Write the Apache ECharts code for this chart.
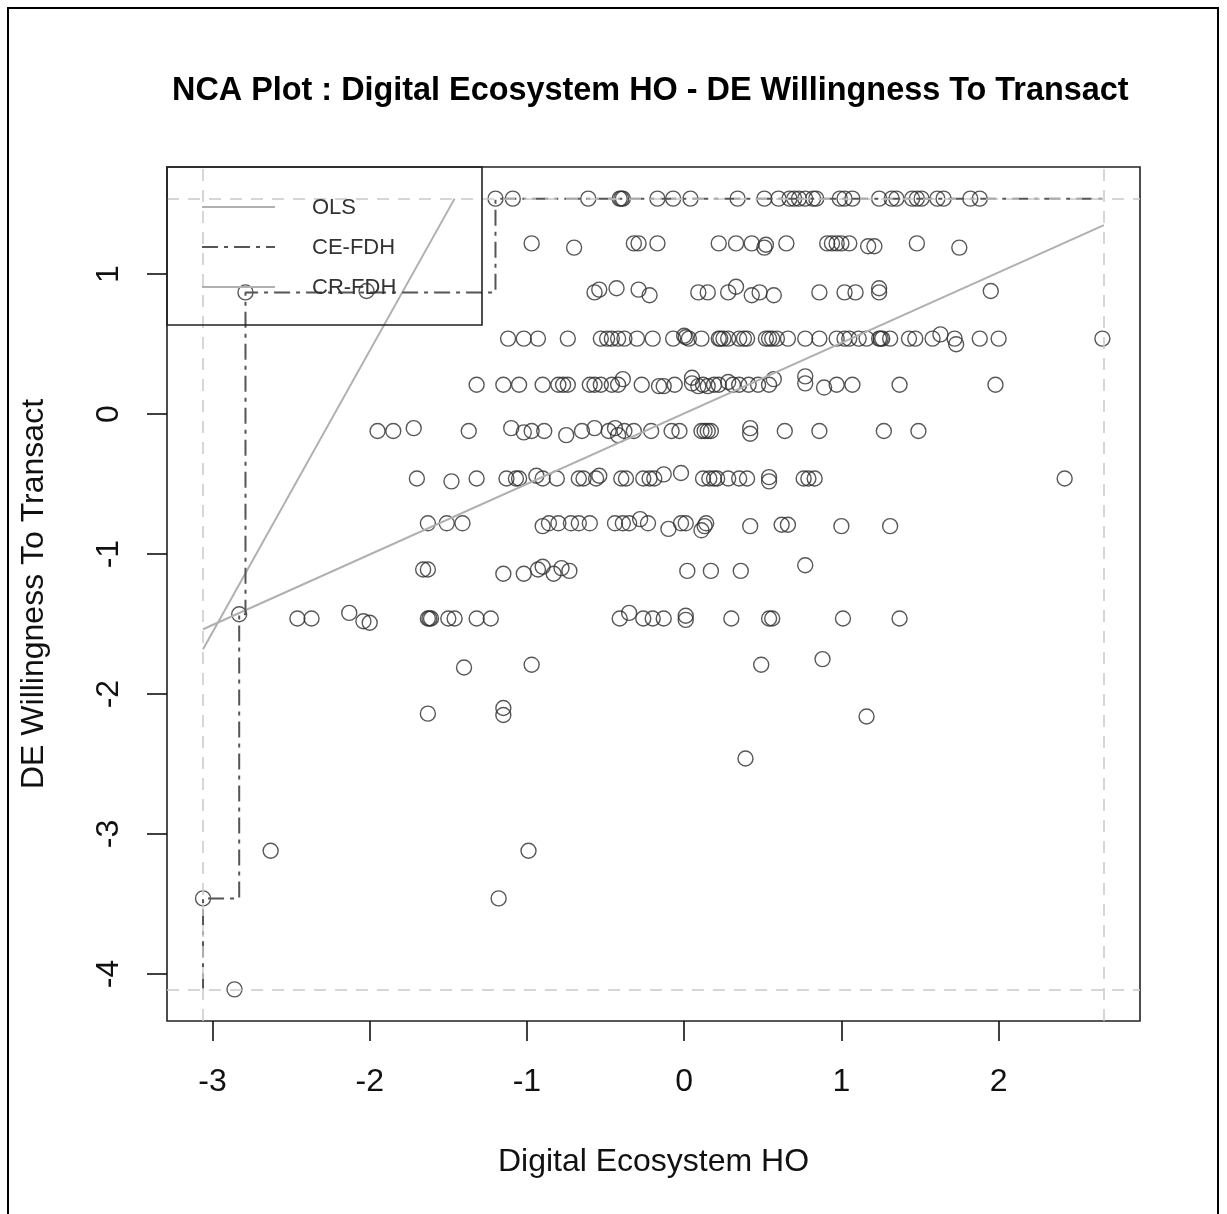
<!DOCTYPE html>
<html><head><meta charset="utf-8">
<script src="https://cdn.jsdelivr.net/npm/echarts@6/dist/echarts.min.js"></script>
<style>html,body{margin:0;padding:0;background:#fff}#c{width:1227px;height:1214px}</style>
</head><body><div id="c"></div>
<script>
const FONT = '"Liberation Sans", Arial, Helvetica, sans-serif';
const titleText = 'NCA Plot : Digital Ecosystem HO - DE Willingness To Transact';
const xName = 'Digital Ecosystem HO';
const yName = 'DE Willingness To Transact';
const xTicks = [-3, -2, -1, 0, 1, 2];
const yTicks = [-4, -3, -2, -1, 0, 1];
const xScope = [-3.06, 2.67];
const yScope = [-4.11, 1.54];
const legendNames = ['OLS', 'CE-FDH', 'CR-FDH'];

const rowA = [[-1.20,1.54],[-1.09,1.54],[-0.61,1.54],[-0.41,1.54],[-0.40,1.54],[-0.39,1.54],[-0.17,1.54],[-0.07,1.54],[0.04,1.54],[0.34,1.54],[0.51,1.54],[0.60,1.54],[0.67,1.54],[0.70,1.54],[0.73,1.54],[0.77,1.54],[0.82,1.54],[0.84,1.54],[0.99,1.54],[1.02,1.54],[1.07,1.54],[1.24,1.54],[1.32,1.54],[1.35,1.54],[1.45,1.54],[1.48,1.54],[1.51,1.54],[1.61,1.54],[1.65,1.54],[1.82,1.54],[1.88,1.54]];
const rowB = [[-0.97,1.22],[-0.70,1.19],[-0.32,1.22],[-0.29,1.22],[-0.17,1.22],[0.22,1.22],[0.33,1.22],[0.43,1.22],[0.51,1.19],[0.52,1.21],[0.65,1.22],[0.91,1.22],[0.94,1.22],[0.97,1.22],[1.00,1.22],[1.05,1.22],[1.17,1.20],[1.21,1.20],[1.48,1.22],[1.75,1.19]];
const rowC = [[-2.79,0.87],[-2.02,0.88],[-0.57,0.87],[-0.54,0.89],[-0.43,0.90],[-0.29,0.89],[-0.22,0.85],[0.09,0.87],[0.15,0.87],[0.28,0.87],[0.33,0.91],[0.43,0.85],[0.48,0.87],[0.57,0.85],[0.86,0.87],[1.02,0.87],[1.09,0.87],[1.24,0.90],[1.24,0.87],[1.95,0.88]];
const rowD = [[-1.12,0.54],[-1.02,0.54],[-0.93,0.54],[-0.74,0.54],[-0.53,0.54],[-0.49,0.54],[-0.46,0.54],[-0.42,0.54],[-0.38,0.54],[-0.30,0.54],[-0.20,0.54],[-0.07,0.54],[0.00,0.56],[0.01,0.55],[0.03,0.54],[0.11,0.54],[0.22,0.54],[0.23,0.54],[0.25,0.54],[0.28,0.54],[0.35,0.54],[0.38,0.54],[0.40,0.54],[0.52,0.54],[0.54,0.54],[0.56,0.54],[0.59,0.54],[0.66,0.54],[0.77,0.54],[0.86,0.54],[0.97,0.54],[1.02,0.54],[1.05,0.54],[1.11,0.54],[1.16,0.54],[1.24,0.54],[1.25,0.54],[1.26,0.54],[1.31,0.54],[1.43,0.54],[1.47,0.54],[1.58,0.54],[1.63,0.57],[1.72,0.54],[1.73,0.50],[1.88,0.54],[2.00,0.54],[2.66,0.54]];
const rowE = [[-1.32,0.21],[-1.15,0.21],[-1.05,0.21],[-0.90,0.21],[-0.80,0.21],[-0.77,0.21],[-0.74,0.21],[-0.60,0.21],[-0.57,0.21],[-0.53,0.21],[-0.46,0.21],[-0.42,0.21],[-0.39,0.25],[-0.27,0.21],[-0.16,0.20],[-0.13,0.20],[-0.06,0.21],[0.05,0.26],[0.05,0.22],[0.09,0.20],[0.12,0.21],[0.15,0.20],[0.19,0.21],[0.22,0.21],[0.28,0.23],[0.31,0.21],[0.35,0.21],[0.41,0.21],[0.47,0.21],[0.54,0.21],[0.57,0.25],[0.77,0.27],[0.77,0.22],[0.89,0.19],[0.97,0.21],[1.07,0.21],[1.37,0.21],[1.98,0.21]];
const rowF = [[-1.95,-0.12],[-1.85,-0.12],[-1.72,-0.10],[-1.37,-0.12],[-1.10,-0.10],[-1.02,-0.13],[-0.97,-0.12],[-0.89,-0.12],[-0.75,-0.15],[-0.65,-0.12],[-0.57,-0.10],[-0.48,-0.12],[-0.44,-0.10],[-0.42,-0.15],[-0.38,-0.12],[-0.32,-0.12],[-0.21,-0.12],[-0.08,-0.12],[-0.03,-0.12],[0.11,-0.12],[0.13,-0.12],[0.15,-0.12],[0.17,-0.12],[0.42,-0.10],[0.42,-0.14],[0.64,-0.12],[0.86,-0.12],[1.27,-0.12],[1.49,-0.12]];
const rowG = [[-1.70,-0.46],[-1.48,-0.48],[-1.32,-0.46],[-1.13,-0.46],[-1.07,-0.46],[-1.05,-0.46],[-0.94,-0.44],[-0.90,-0.46],[-0.81,-0.46],[-0.67,-0.46],[-0.64,-0.46],[-0.56,-0.46],[-0.54,-0.44],[-0.40,-0.46],[-0.37,-0.46],[-0.26,-0.46],[-0.22,-0.46],[-0.19,-0.46],[-0.13,-0.43],[-0.02,-0.42],[0.12,-0.46],[0.16,-0.46],[0.19,-0.46],[0.21,-0.46],[0.28,-0.46],[0.35,-0.46],[0.40,-0.46],[0.54,-0.45],[0.54,-0.48],[0.76,-0.46],[0.79,-0.46],[0.83,-0.46],[2.42,-0.46]];
const rowH = [[-1.63,-0.78],[-1.51,-0.78],[-1.41,-0.78],[-0.90,-0.80],[-0.86,-0.78],[-0.80,-0.78],[-0.72,-0.78],[-0.67,-0.78],[-0.60,-0.78],[-0.44,-0.78],[-0.39,-0.78],[-0.35,-0.78],[-0.28,-0.75],[-0.23,-0.78],[-0.10,-0.82],[-0.02,-0.78],[0.01,-0.78],[0.11,-0.83],[0.13,-0.80],[0.14,-0.78],[0.42,-0.80],[0.62,-0.79],[0.66,-0.79],[1.00,-0.80],[1.31,-0.80]];
const rowI = [[-1.66,-1.11],[-1.63,-1.11],[-1.15,-1.14],[-1.02,-1.14],[-0.93,-1.11],[-0.90,-1.09],[-0.83,-1.14],[-0.78,-1.10],[-0.73,-1.12],[0.02,-1.12],[0.17,-1.12],[0.36,-1.12],[0.77,-1.08]];
const rowJ = [[-2.83,-1.43],[-2.46,-1.46],[-2.37,-1.46],[-2.13,-1.42],[-2.04,-1.48],[-2.00,-1.49],[-1.63,-1.46],[-1.62,-1.46],[-1.61,-1.46],[-1.50,-1.46],[-1.46,-1.46],[-1.32,-1.46],[-1.23,-1.46],[-0.41,-1.46],[-0.35,-1.42],[-0.26,-1.46],[-0.20,-1.46],[-0.13,-1.46],[0.01,-1.44],[0.01,-1.47],[0.30,-1.46],[0.54,-1.46],[0.56,-1.46],[1.01,-1.46],[1.37,-1.46]];
const rowLow = [[-1.40,-1.81],[-0.97,-1.79],[0.49,-1.79],[0.88,-1.75],[-1.63,-2.14],[-1.15,-2.10],[-1.15,-2.15],[1.16,-2.16],[0.39,-2.46],[-2.63,-3.12],[-0.99,-3.12],[-3.06,-3.46],[-1.18,-3.46],[-2.86,-4.11]];

const olsLine = [[-3.06,-1.537],[2.67,1.351]];
const crFdhLine = [[-3.06,-1.68],[-1.46,1.54]];
const ceFdhSteps = [[-3.06,-4.11],[-3.06,-3.46],[-2.83,-3.46],[-2.83,-1.43],[-2.79,-1.43],[-2.79,0.87],[-1.20,0.87],[-1.20,1.54],[2.67,1.54]];

const points = [].concat(rowA,rowB,rowC,rowD,rowE,rowF,rowG,rowH,rowI,rowJ,rowLow);

const xPad = (xScope[1]-xScope[0])*0.04;
const yPad = (yScope[1]-yScope[0])*0.04;

const chart = echarts.init(document.getElementById('c'), null, {renderer:'canvas'});
const gridL = 167, gridT = 167, gridW = 973, gridH = 854;
const legX = 202, legY = 208, legStep = 40;

chart.setOption({
  animation: false,
  backgroundColor: '#fff',
  title: {
    text: titleText, left: 172, top: 75, padding: 0,
    textStyle: {fontFamily: FONT, fontSize: 32.4, fontWeight: 'bold', color: '#000'}
  },
  grid: {left: gridL, top: gridT, width: gridW, height: gridH, show: true, borderColor: '#222', borderWidth: 1.6, backgroundColor: 'transparent'},
  xAxis: {
    type: 'value', min: xScope[0]-xPad, max: xScope[1]+xPad,
    name: xName, nameLocation: 'middle', nameGap: 125,
    nameTextStyle: {fontFamily: FONT, fontSize: 32, color: '#111'},
    axisLine: {show: false, onZero: false},
    splitLine: {show: false},
    axisTick: {show: true, inside: false, length: 20, customValues: xTicks, lineStyle: {color: '#111', width: 1.6}},
    axisLabel: {customValues: xTicks, fontFamily: FONT, fontSize: 32, color: '#111', margin: 45}
  },
  yAxis: {
    type: 'value', min: yScope[0]-yPad, max: yScope[1]+yPad,
    name: yName, nameLocation: 'middle', nameGap: 117,
    nameTextStyle: {fontFamily: FONT, fontSize: 32, color: '#111'},
    axisLine: {show: false, onZero: false},
    splitLine: {show: false},
    axisTick: {show: true, inside: false, length: 20, customValues: yTicks, lineStyle: {color: '#111', width: 1.6}},
    axisLabel: {customValues: yTicks, rotate: 90, fontFamily: FONT, fontSize: 32, color: '#111', margin: 42}
  },
  series: [
    {
      name: 'points', type: 'scatter', data: points, symbol: 'circle', symbolSize: 15, silent: true,
      itemStyle: {color: 'rgba(0,0,0,0)', borderColor: '#2e2e2e', borderWidth: 1.4},
      markLine: {
        silent: true, symbol: ['none','none'], label: {show: false},
        lineStyle: {color: '#c9c9c9', type: [12, 9], width: 1.5},
        data: [{xAxis: xScope[0]}, {xAxis: xScope[1]}, {yAxis: yScope[0]}, {yAxis: yScope[1]}]
      },
      z: 2
    },
    {name: 'OLS', type: 'line', data: olsLine, symbol: 'none', silent: true, lineStyle: {color: '#b0b0b0', width: 2}, z: 3},
    {name: 'CE-FDH', type: 'line', data: ceFdhSteps, symbol: 'none', silent: true, lineStyle: {color: '#555', width: 2, type: [16, 6, 4, 6]}, z: 4},
    {name: 'CR-FDH', type: 'line', data: crFdhLine, symbol: 'none', silent: true, lineStyle: {color: '#b0b0b0', width: 2}, z: 3}
  ],
  graphic: [
    {type: 'rect', silent: true, shape: {x: 8, y: 8, width: 1210, height: 1230}, style: {fill: 'none', stroke: '#000', lineWidth: 2}},
    {type: 'rect', silent: true, z: 10, shape: {x: gridL, y: gridT, width: 315, height: 158}, style: {fill: 'none', stroke: '#222', lineWidth: 1.6}},
    {type: 'line', silent: true, z: 10, shape: {x1: legX, y1: legY-1, x2: legX+73, y2: legY-1}, style: {stroke: '#b0b0b0', lineWidth: 2}},
    {type: 'line', silent: true, z: 10, shape: {x1: legX, y1: legY-1+legStep, x2: legX+73, y2: legY-1+legStep}, style: {stroke: '#555', lineWidth: 2, lineDash: [16, 6, 4, 6]}},
    {type: 'line', silent: true, z: 10, shape: {x1: legX, y1: legY-1+2*legStep, x2: legX+73, y2: legY-1+2*legStep}, style: {stroke: '#b0b0b0', lineWidth: 2}},
    {type: 'text', silent: true, z: 10, style: {x: 312, y: legY, text: legendNames[0], font: '22px ' + FONT, fill: '#333', textVerticalAlign: 'middle'}},
    {type: 'text', silent: true, z: 10, style: {x: 312, y: legY+legStep, text: legendNames[1], font: '22px ' + FONT, fill: '#333', textVerticalAlign: 'middle'}},
    {type: 'text', silent: true, z: 10, style: {x: 312, y: legY+2*legStep, text: legendNames[2], font: '22px ' + FONT, fill: '#333', textVerticalAlign: 'middle'}}
  ]
});
</script></body></html>
